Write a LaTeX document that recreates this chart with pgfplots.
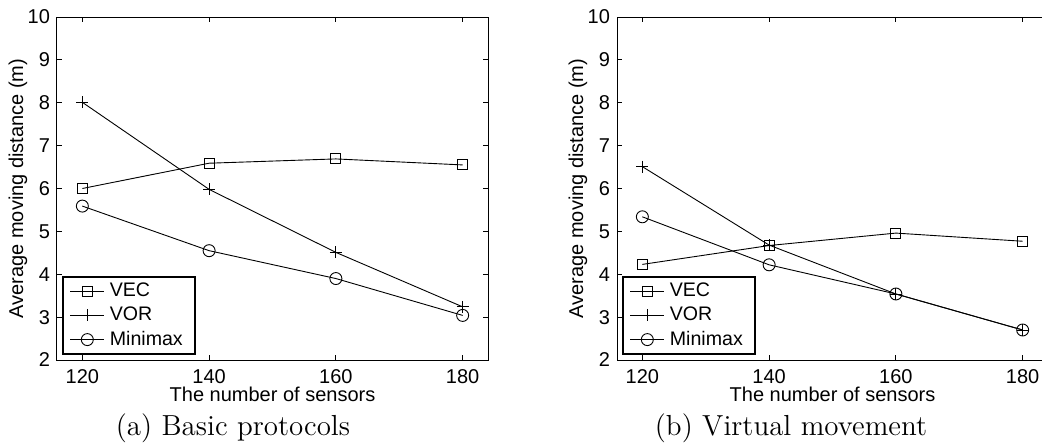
\documentclass[border=0pt]{standalone}
\usepackage{fontspec}
\setsansfont{Liberation Sans}
\usepackage{pgfplots}
\pgfplotsset{compat=1.18}

\pgfplotsset{
  panel/.style={
    scale only axis,
    width=215.5pt, height=171.5pt,
    anchor=south west,
    xmin=116, xmax=184,
    ymin=2, ymax=10,
    xtick={120,140,160,180},
    ytick={2,3,...,10},
    tick align=inside,
    major tick length=2.5pt,
    axis line style={line width=0.5pt},
    every tick/.style={black, line width=0.4pt},
    /pgf/number format/assume math mode=true,
    tick label style={font=\sffamily\fontsize{10}{12}\selectfont},
    xticklabel style={inner sep=1pt, yshift=-3.5pt},
    label style={font=\sffamily\fontsize{10}{12}\selectfont},
    xlabel={The number of sensors},
    ylabel={Average moving distance (m)},
    xlabel style={at={(axis description cs:0.5,-0.0991)}, anchor=center, inner sep=0pt},
    ylabel style={at={(axis description cs:-0.0905,0.5)}, anchor=center, inner sep=0pt},
    legend cell align=left,
    legend style={at={(axis description cs:0.0116,0.0146)}, anchor=south west,
      draw=black, line width=0.8pt, inner xsep=3.5pt, inner ysep=1.5pt,
      row sep=0.7pt,
      nodes={inner xsep=2.5pt, inner ysep=1.5pt},
      font=\sffamily\fontsize{9.8}{11}\selectfont},
  },
  vec/.style={black, line width=0.45pt, mark=square, mark size=2.5pt},
  vor/.style={black, line width=0.45pt, mark=+, mark size=3pt},
  mm/.style={black, line width=0.45pt, mark=o, mark size=3pt},
}

\begin{document}
\begin{tikzpicture}
% (a) basic protocols
\begin{axis}[panel, at={(0pt,0pt)}]
\addplot[vec] coordinates {(120,6.00) (140,6.59) (160,6.69) (180,6.55)};
\addlegendentry{VEC}
\addplot[vor] coordinates {(120,8.01) (140,5.98) (160,4.51) (180,3.24)};
\addlegendentry{VOR}
\addplot[mm] coordinates {(120,5.59) (140,4.55) (160,3.90) (180,3.04)};
\addlegendentry{Minimax}
\end{axis}
\node[font=\fontsize{14.5}{17}\selectfont, inner sep=0pt] at (88pt,-34pt) {(a) Basic protocols};

% (b) virtual movement
\begin{axis}[panel, at={(280pt,0pt)}]
\addplot[vec] coordinates {(120,4.23) (140,4.67) (160,4.96) (180,4.77)};
\addlegendentry{VEC}
\addplot[vor] coordinates {(120,6.51) (140,4.68) (160,3.54) (180,2.70)};
\addlegendentry{VOR}
\addplot[mm] coordinates {(120,5.34) (140,4.22) (160,3.54) (180,2.70)};
\addlegendentry{Minimax}
\end{axis}
\node[font=\fontsize{14.5}{17}\selectfont, inner sep=0pt] at (367pt,-34pt) {(b) Virtual movement};

% the right panel runs past the page edge, as in the original
\pgfresetboundingbox
\useasboundingbox (-28.5pt,-42.5pt) rectangle (492.5pt,180pt);
\end{tikzpicture}
\end{document}
